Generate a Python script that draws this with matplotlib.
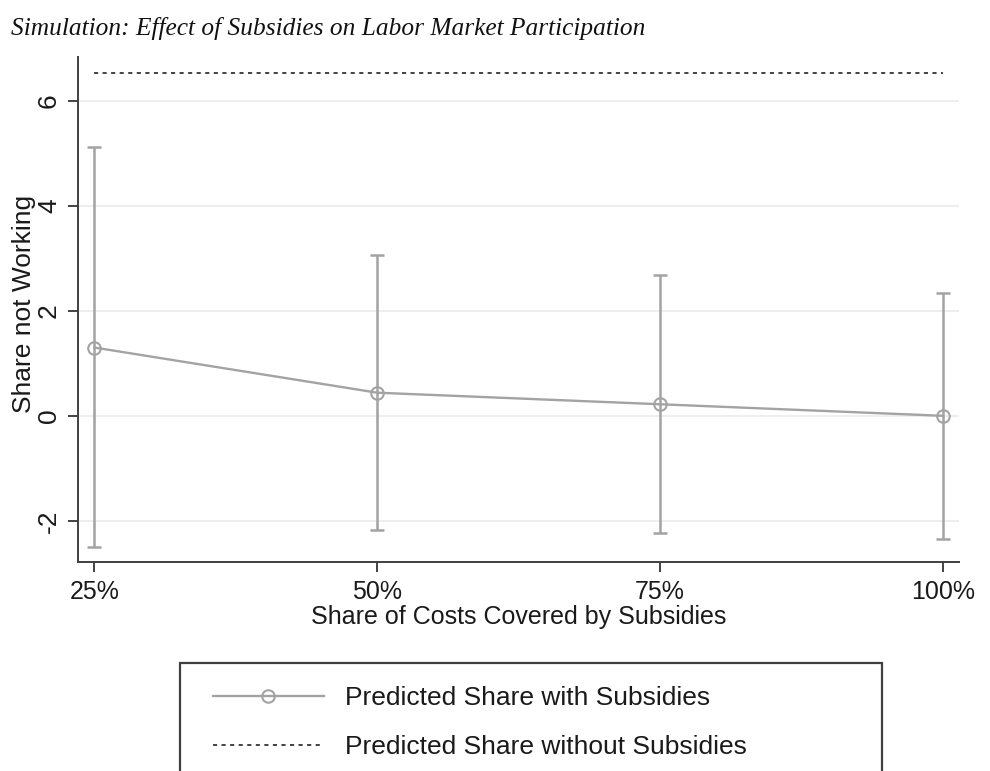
import numpy as np
import matplotlib
matplotlib.use("Agg")
import matplotlib.pyplot as plt
from matplotlib.patches import Rectangle
from matplotlib.lines import Line2D

# data
share_covered = [25, 50, 75, 100]
tick_labels = ["25%", "50%", "75%", "100%"]
pred_with = [1.30, 0.44, 0.22, 0.00]
ci_low = [-2.50, -2.18, -2.24, -2.34]
ci_high = [5.12, 3.06, 2.68, 2.34]
pred_without = 6.53

grey = "#a3a3a3"
dark = "#404040"
txt = "#1a1a1a"

plt.rcParams["font.family"] = ["Liberation Sans", "DejaVu Sans"]

fig = plt.figure(figsize=(9.9, 7.71), dpi=100)
ax = fig.add_axes([0.0791, 0.2707, 0.8899, 0.6558])

x = np.array(share_covered)
y = np.array(pred_with)
yerr = [y - np.array(ci_low), np.array(ci_high) - y]

ax.errorbar(x, y, yerr=yerr, fmt="none", ecolor=grey, elinewidth=1.8,
            capsize=5, capthick=1.8, zorder=3)
ax.plot(x, y, color=grey, lw=1.7, marker="o", ms=9, mfc="none",
        mec=grey, mew=1.5, zorder=4)
ax.plot([x[0], x[-1]], [pred_without] * 2, color="#111111", lw=1.1,
        linestyle=(0, (2.7, 2.9)), zorder=4)

ax.set_xlim(23.57, 101.47)
ax.set_ylim(-2.79, 6.84)
ax.set_xticks(share_covered)
ax.set_xticklabels(tick_labels)
ax.set_yticks([-2, 0, 2, 4, 6])
ax.set_yticklabels(["-2", "0", "2", "4", "6"], rotation=90, va="center")
ax.grid(axis="y", color="#ebebeb", lw=1.2)
ax.set_axisbelow(True)

for s in ["top", "right"]:
    ax.spines[s].set_visible(False)
for s in ["left", "bottom"]:
    ax.spines[s].set_color(dark)
    ax.spines[s].set_linewidth(1.4)

ax.tick_params(axis="both", length=7.5, width=1.2, color="#222222",
               labelcolor=txt)
ax.tick_params(axis="x", labelsize=18, pad=5)
ax.tick_params(axis="y", labelsize=19, pad=5)

ax.set_xlabel("Share of Costs Covered by Subsidies", fontsize=18,
              color=txt, va="center")
ax.xaxis.set_label_coords(0.5, -0.108)
ax.set_ylabel("Share not Working", fontsize=19, color=txt, va="center")
ax.yaxis.set_label_coords(-0.062, 0.51)

fig.text(0.011, 0.963, "Simulation: Effect of Subsidies on Labor Market Participation",
         family="Liberation Serif", style="italic", fontsize=18.3,
         va="center", ha="left", color="#111111")

# legend box, cut off at the bottom like the original
fig.patches.append(Rectangle((180 / 990, -0.1), 702 / 990, 1 - 663 / 771 + 0.1,
                             transform=fig.transFigure, fill=False,
                             edgecolor=dark, lw=1.6))
handles = [
    Line2D([], [], color=grey, lw=1.7, marker="o", ms=9, mfc="none", mec=grey, mew=1.5),
    Line2D([], [], color="#111111", lw=1.1, linestyle=(0, (2.7, 2.9))),
]
fig.legend(handles, ["Predicted Share with Subsidies",
                     "Predicted Share without Subsidies"],
           loc="upper left", bbox_to_anchor=(189 / 990, 1 - 662 / 771),
           frameon=False, fontsize=19, handlelength=4.2, handletextpad=0.8,
           labelspacing=0.95, labelcolor=txt)

fig.savefig("out.png", dpi=100)
